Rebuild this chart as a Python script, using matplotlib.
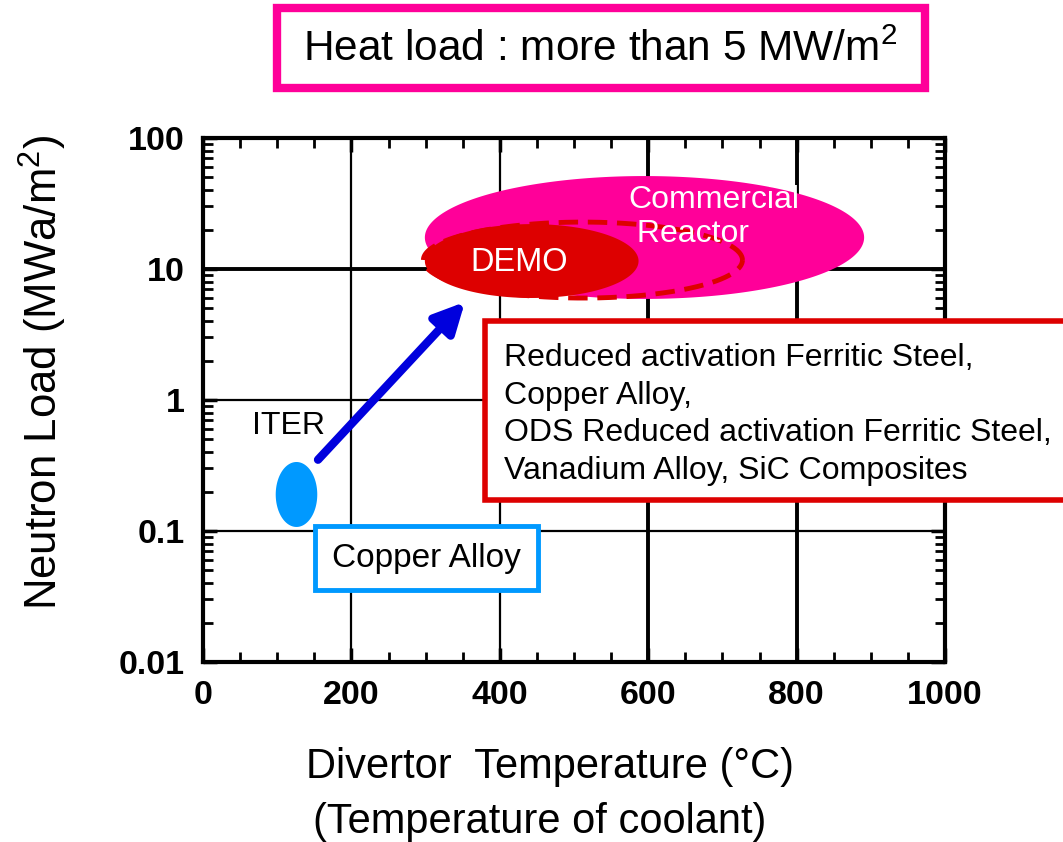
import numpy as np
import matplotlib
matplotlib.use('Agg')
import matplotlib.pyplot as plt
from matplotlib.patches import Rectangle
from matplotlib.ticker import MultipleLocator, LogLocator, NullFormatter

plt.rcParams['font.family'] = ['Liberation Sans', 'DejaVu Sans']
plt.rcParams['mathtext.fontset'] = 'custom'
plt.rcParams['mathtext.rm'] = 'Liberation Sans'
plt.rcParams['mathtext.it'] = 'Liberation Sans:italic'
plt.rcParams['mathtext.bf'] = 'Liberation Sans:bold'

# ---------------- data ----------------
x_ticks = [0, 200, 400, 600, 800, 1000]
x_tick_labels = ['0', '200', '400', '600', '800', '1000']
y_ticks = [0.01, 0.1, 1, 10, 100]
y_tick_labels = ['0.01', '0.1', '1', '10', '100']

region_names = ['Commercial Reactor', 'DEMO (extended)', 'DEMO', 'ITER']
region_temp_center = [595, 512, 443, 126]          # degC
region_temp_halfwidth = [296, 215, 144, 28]        # degC
region_load_center = [17.4, 11.7, 11.5, 0.19]      # MWa/m2
region_load_halfdecades = [0.469, 0.29, 0.282, 0.248]

arrow_from = (155, 0.35)   # ITER
arrow_to = (353, 5.6)      # DEMO

materials_demo = ['Reduced activation Ferritic Steel,',
                  'Copper Alloy,',
                  'ODS Reduced activation Ferritic Steel,',
                  'Vanadium Alloy, SiC Composites']
materials_iter = 'Copper Alloy'
heat_load_text = 'Heat load : more than 5 MW/m$^{2}$'

MAGENTA = '#FF0099'
RED = '#DD0000'
LIGHTBLUE = '#0099FF'
BLUE = '#0000DD'

# ---------------- figure ----------------
W, H = 1063, 842
fig = plt.figure(figsize=(W / 100, H / 100), dpi=100)
ax = fig.add_axes([203 / W, 1 - 662 / H, 742 / W, 524 / H])
ax.set_xlim(0, 1000)
ax.set_yscale('log')
ax.set_ylim(0.01, 100)

# grid lines
for v, lw in zip([200, 400, 600, 800], [1.6, 1.6, 2.8, 2.8]):
    ax.axvline(v, color='black', lw=lw, zorder=1)
for v, lw in zip([0.1, 1, 10], [1.6, 1.6, 2.8]):
    ax.axhline(v, color='black', lw=lw, zorder=1)

theta = np.linspace(0, 2 * np.pi, 361)


def ellipse(i):
    x = region_temp_center[i] + region_temp_halfwidth[i] * np.cos(theta)
    y = 10 ** (np.log10(region_load_center[i]) + region_load_halfdecades[i] * np.sin(theta))
    return x, y


x, y = ellipse(0)
ax.fill(x, y, color=MAGENTA, lw=0, zorder=2)
x, y = ellipse(1)
ax.plot(x, y, color=RED, lw=3.5, ls=(0, (4, 2)), zorder=3)
x, y = ellipse(2)
ax.fill(x, y, color=RED, lw=0, zorder=4)
x, y = ellipse(3)
ax.fill(x, y, color=LIGHTBLUE, lw=0, zorder=4)

ax.text(573, 25, 'Commercial\n Reactor', color='white', fontsize=23,
        ha='left', va='center', linespacing=1.18, zorder=5)
ax.text(426, 11.3, 'DEMO', color='white', fontsize=23.5, ha='center', va='center', zorder=5)
ax.text(115, 0.63, 'ITER', color='black', fontsize=23, ha='center', va='center', zorder=5)

ax.annotate('', xy=arrow_to, xytext=arrow_from,
            arrowprops=dict(arrowstyle='-|>,head_length=0.6,head_width=0.3',
                            mutation_scale=30, color=BLUE, lw=6,
                            shrinkA=0, shrinkB=0), zorder=6)

# axes styling
for s in ax.spines.values():
    s.set_linewidth(3)
ax.set_xticks(x_ticks, x_tick_labels, fontweight='bold', fontsize=24.5)
ax.set_yticks(y_ticks, y_tick_labels, fontweight='bold', fontsize=24.5)
ax.xaxis.set_minor_locator(MultipleLocator(50))
ax.yaxis.set_minor_locator(LogLocator(base=10, subs=np.arange(2, 10)))
ax.yaxis.set_minor_formatter(NullFormatter())
ax.tick_params(which='both', direction='in', top=True, right=True)
ax.tick_params(which='major', length=10, width=2.5, pad=13)
ax.tick_params(which='minor', length=7, width=2)

# ---------------- annotation boxes ----------------
fig.add_artist(Rectangle((485 / W, 1 - 500 / H), (1090 - 485) / W, 179 / H,
                         transform=fig.transFigure, facecolor='white',
                         edgecolor=RED, lw=4, zorder=7))
fig.text(504 / W, 1 - 414.5 / H, '\n'.join(materials_demo), ha='left', va='center',
         fontsize=23, linespacing=1.33, zorder=8)

fig.add_artist(Rectangle((315 / W, 1 - 590 / H), (538 - 315) / W, 64 / H,
                         transform=fig.transFigure, facecolor='white',
                         edgecolor=LIGHTBLUE, lw=3.5, zorder=7))
fig.text(426 / W, 1 - 558 / H, materials_iter, ha='center', va='center',
         fontsize=24, zorder=8)

fig.add_artist(Rectangle((277 / W, 1 - 88 / H), (925 - 277) / W, 80 / H,
                         transform=fig.transFigure, facecolor='white',
                         edgecolor=MAGENTA, lw=6, zorder=7))
fig.text(600 / W, 1 - 50 / H, heat_load_text, ha='center', va='center',
         fontsize=30.5, zorder=8)

# axis labels
fig.text(550 / W, 1 - 767 / H, 'Divertor  Temperature (°C)', ha='center', va='center', fontsize=30)
fig.text(540 / W, 1 - 822 / H, '(Temperature of coolant)', ha='center', va='center', fontsize=30)
fig.text(43 / W, 1 - 372 / H, 'Neutron Load (MWa/m$^{2}$)', rotation=90,
         ha='center', va='center', fontsize=31.5)

fig.savefig('out.png', dpi=100)
